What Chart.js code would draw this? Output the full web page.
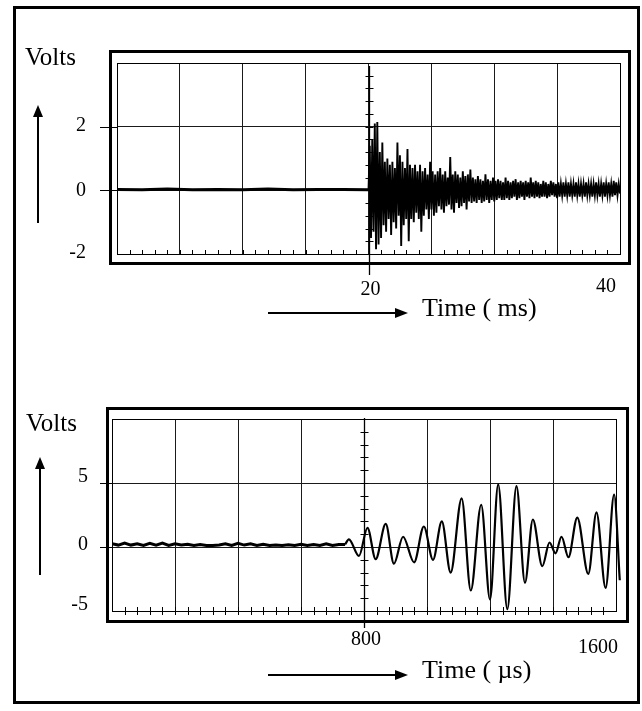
<!DOCTYPE html>
<html>
<head>
<meta charset="utf-8">
<script src="https://cdn.jsdelivr.net/npm/chart.js@4.4.1/dist/chart.umd.min.js"></script>
<style>
html,body{margin:0;padding:0;background:#fff;}
#wrap{position:relative;width:642px;height:711px;overflow:hidden;background:#fff;}
#wrap canvas{position:absolute;left:0;top:0;}
#frame{position:absolute;left:13px;top:6px;width:627px;height:698px;border:3px solid #000;box-sizing:border-box;}
.lbl{position:absolute;font-family:"Liberation Serif","Times New Roman",serif;color:#000;white-space:nowrap;line-height:1;}
</style>
</head>
<body>
<div id="wrap">
  <div id="frame"></div>
  <canvas id="c1" width="642" height="711"></canvas>
  <canvas id="c2" width="642" height="711"></canvas>
  <div class="lbl" style="left:25px;top:44px;font-size:25px">Volts</div>
  <div class="lbl" style="left:422px;top:295px;font-size:26px">Time ( ms)</div>
  <div class="lbl" style="left:26px;top:410px;font-size:25px">Volts</div>
  <div class="lbl" style="left:422px;top:657px;font-size:26px">Time ( µs)</div>
</div>
<script>
// ---------- data: upper trace (ms, volts) ----------
const topTraceStart = 20;   // trigger time, ms
const topTraceStep = 0.1;   // sample spacing, ms
const topBaselineT = [0, 2, 4, 6, 8, 10, 12, 14, 16, 18, 20];
const topBaselineV = [0.03, 0.02, 0.04, 0.02, 0.03, 0.02, 0.04, 0.02, 0.03, 0.03, 0.02];
const topSignalV = [
  0.0, 1.4, -1.5, 1.6, -1.3, 2.1, -1.85, 2.15, -1.7, 1.2,
  -1.5, 1.5, -1.1, 0.9, -1.3, 1.0, -0.9, 0.8, -1.4, 0.9,
  -1.0, 0.7, -1.2, 1.5, -0.8, 1.1, -1.75, 0.9, -1.1, 0.7,
  -0.9, 1.3, -1.6, 0.8, -0.9, 0.7, -1.0, 0.8, -0.7, 0.6,
  -0.9, 0.8, -1.3, 0.6, -0.8, 0.7, -0.6, 0.5, -0.9, 0.9,
  -0.6, 0.6, -0.8, 0.5, -0.7, 0.6, -0.5, 0.7, -0.6, 0.5,
  -0.7, 0.6, -0.5, 0.4, -0.45, 1.05, -0.6, 0.5, -0.7, 0.6,
  -0.4, 0.5, -0.55, 0.4, -0.5, 0.6, -0.4, 0.45, -0.6, 0.5,
  -0.35, 0.65, -0.4, 0.4, -0.35, 0.35, -0.4, 0.45, -0.3, 0.35,
  -0.4, 0.3, -0.35, 0.5, -0.3, 0.35, -0.4, 0.3, -0.3, 0.4,
  -0.35, 0.3, -0.3, 0.35, -0.25, 0.3, -0.3, 0.25, -0.3, 0.4,
  -0.25, 0.3, -0.3, 0.25, -0.25, 0.3, -0.2, 0.35, -0.3, 0.25,
  -0.25, 0.3, -0.2, 0.25, -0.3, 0.3, -0.2, 0.25, -0.25, 0.4,
  -0.2, 0.25, -0.25, 0.3, -0.2, 0.25, -0.25, 0.2, -0.2, 0.3,
  -0.2, 0.25, -0.25, 0.2, -0.2, 0.3, -0.15, 0.25, -0.2, 0.2,
  -0.25, 0.25, -0.2, 0.2, -0.15, 0.25, -0.2, 0.2, -0.15, 0.25,
  -0.2, 0.2, -0.15, 0.2, -0.2, 0.25, -0.15, 0.2, -0.2, 0.2,
  -0.15, 0.2, -0.2, 0.25, -0.15, 0.2, -0.15, 0.2, -0.2, 0.2,
  -0.15, 0.25, -0.15, 0.2, -0.2, 0.2, -0.15, 0.25, -0.2, 0.2,
  -0.15, 0.25, -0.15, 0.2, -0.2, 0.3, -0.15, 0.25, -0.15, 0.2,
  -0.1
];
const topXTickLabels = [20, 40];
const topYTickLabels = [2, 0, -2];

// ---------- data: lower trace (µs, volts) ----------
const botNoiseStep = 20;    // sample spacing, µs
const botNoiseV = [
  0.25, 0.15, 0.3, 0.15, 0.25, 0.12, 0.28, 0.15, 0.3, 0.12,
  0.25, 0.15, 0.22, 0.12, 0.2, 0.12, 0.12, 0.15, 0.25, 0.12,
  0.28, 0.15, 0.25, 0.12, 0.22, 0.12, 0.15, 0.12, 0.18, 0.12,
  0.22, 0.12, 0.2, 0.12, 0.25, 0.12, 0.2, 0.2
];
const botWaveT = [740, 752, 784, 811, 837, 869, 895, 924, 959, 990, 1019, 1047, 1075, 1110, 1139, 1172, 1200,
                  1226, 1255, 1284, 1311, 1336, 1366, 1389, 1408, 1427, 1449, 1477, 1512, 1538, 1567, 1594, 1612];
const botWaveV = [0.2, 0.6, -0.7, 1.5, -0.95, 1.8, -1.3, 0.8, -1.2, 1.6, -1.0, 2.0, -2.0, 3.8, -3.4, 3.3, -4.1,
                  4.9, -4.85, 4.75, -2.8, 2.15, -1.5, 0.35, -0.5, 0.8, -0.8, 2.3, -2.1, 2.7, -3.2, 4.1, -2.6];
const botXTickLabels = [800, 1600];
const botYTickLabels = [5, 0, -5];

// ---------- decoration plugin ----------
const INK = '#000';
function seg(ctx, x1, y1, x2, y2) { ctx.beginPath(); ctx.moveTo(x1, y1); ctx.lineTo(x2, y2); ctx.stroke(); }
const scopeDecor = {
  id: 'scopeDecor',
  afterDraw(chart, args, o) {
    const {ctx, chartArea: a, scales: {x, y}} = chart;
    ctx.save();
    ctx.strokeStyle = INK; ctx.fillStyle = INK;
    // inner plot frame
    ctx.lineWidth = 1;
    ctx.strokeRect(a.left + 0.5, a.top + 0.5, a.right - a.left, a.bottom - a.top);
    // thick outer box
    ctx.lineWidth = 3;
    ctx.strokeRect(o.box[0], o.box[1], o.box[2] - o.box[0], o.box[3] - o.box[1]);
    // horizontal grid extensions to the left
    ctx.lineWidth = 1;
    o.gridY.forEach(v => { const py = Math.round(y.getPixelForValue(v)) + 0.5; seg(ctx, o.extLeft, py, a.left, py); });
    // centre axis with ticks
    const cx = Math.round(x.getPixelForValue(o.centerX)) + 0.5;
    ctx.lineWidth = 1.3;
    seg(ctx, cx, o.centerTop, cx, o.centerBottom);
    ctx.lineWidth = 1;
    for (let k = 1; ; k++) {
      const v = y.min + k * o.centerStep;
      if (v > y.max - 1e-6) break;
      const py = Math.round(y.getPixelForValue(v)) + 0.5;
      seg(ctx, cx - o.centerHalf, py, cx + o.centerHalf, py);
    }
    // minor ticks on bottom edge
    for (let k = 1; ; k++) {
      const v = x.min + k * o.minorStep;
      if (v > x.max - 1e-6) break;
      const px = Math.round(x.getPixelForValue(v)) + 0.5;
      seg(ctx, px, a.bottom - o.minorUp, px, a.bottom + o.minorDown);
    }
    // tick labels
    ctx.font = o.tickFont;
    ctx.textBaseline = 'middle';
    ctx.textAlign = 'right';
    o.yLabels.forEach((v, i) => ctx.fillText(String(v), o.yLabelRight, y.getPixelForValue(v) + o.yLabelDy[i]));
    ctx.textAlign = 'center';
    o.xLabels.forEach((v, i) => ctx.fillText(String(v), x.getPixelForValue(v) + o.xLabelDx[i], o.xLabelY[i]));
    // arrows
    ctx.lineWidth = 2;
    const va = o.vArrow;
    seg(ctx, va[0], va[2], va[0], va[1] + 8);
    ctx.beginPath(); ctx.moveTo(va[0], va[1]); ctx.lineTo(va[0] - 5, va[1] + 12); ctx.lineTo(va[0] + 5, va[1] + 12); ctx.closePath(); ctx.fill();
    const ha = o.hArrow;
    seg(ctx, ha[0], ha[2], ha[1] - 8, ha[2]);
    ctx.beginPath(); ctx.moveTo(ha[1], ha[2]); ctx.lineTo(ha[1] - 13, ha[2] - 5); ctx.lineTo(ha[1] - 13, ha[2] + 5); ctx.closePath(); ctx.fill();
    ctx.restore();
  }
};

function scaleOpts(min, max, step, gridVals) {
  return {
    type: 'linear', min, max,
    ticks: {display: false, stepSize: step},
    border: {display: false},
    grid: {
      drawTicks: false, lineWidth: 1,
      color: gridVals ? (c => gridVals.includes(c.tick.value) ? '#1a1a1a' : 'rgba(0,0,0,0)') : '#1a1a1a'
    }
  };
}

// ---------- upper chart ----------
new Chart(document.getElementById('c1'), {
  type: 'line',
  data: {
    datasets: [
      {data: topBaselineT.map((t, i) => ({x: t, y: topBaselineV[i]})), borderColor: INK, borderWidth: 3, pointRadius: 0, tension: 0},
      {data: topSignalV.map((v, i) => ({x: topTraceStart + i * topTraceStep, y: v})), borderColor: INK, borderWidth: 1.9, pointRadius: 0, tension: 0, borderJoinStyle: 'miter'}
    ]
  },
  options: {
    responsive: false, animation: false, events: [],
    layout: {padding: {left: 117, top: 63, right: 22, bottom: 457}},
    plugins: {
      legend: {display: false}, tooltip: {enabled: false},
      scopeDecor: {
        box: [110.5, 51.5, 629.5, 263.5], gridY: [2, 0], extLeft: 100,
        centerX: 20, centerTop: 66, centerBottom: 275, centerStep: 0.4, centerHalf: 4,
        minorStep: 1, minorUp: 4, minorDown: 0,
        tickFont: '20px "Liberation Serif", serif',
        yLabels: topYTickLabels, yLabelRight: 86, yLabelDy: [-1, 0, -1],
        xLabels: topXTickLabels, xLabelDx: [2, -14], xLabelY: [290, 287],
        vArrow: [38, 105, 223], hArrow: [268, 408, 313]
      }
    },
    scales: {x: scaleOpts(0, 40, 5, null), y: scaleOpts(-2, 4, 2, [0, 2])}
  },
  plugins: [scopeDecor]
});

// ---------- lower chart ----------
new Chart(document.getElementById('c2'), {
  type: 'line',
  data: {
    datasets: [
      {data: botNoiseV.map((v, i) => ({x: i * botNoiseStep, y: v})), borderColor: INK, borderWidth: 3, pointRadius: 0, tension: 0},
      {data: botWaveT.map((t, i) => ({x: t, y: botWaveV[i]})), borderColor: INK, borderWidth: 2.2, pointRadius: 0,
       cubicInterpolationMode: 'monotone', clip: 8}
    ]
  },
  options: {
    responsive: false, animation: false, events: [],
    layout: {padding: {left: 112, top: 419, right: 26, bottom: 100}},
    plugins: {
      legend: {display: false}, tooltip: {enabled: false},
      scopeDecor: {
        box: [107.5, 408.5, 627.5, 621.5], gridY: [5, 0], extLeft: 100,
        centerX: 800, centerTop: 418, centerBottom: 628, centerStep: 1, centerHalf: 4,
        minorStep: 40, minorUp: 4, minorDown: 4,
        tickFont: '20px "Liberation Serif", serif',
        yLabels: botYTickLabels, yLabelRight: 88, yLabelDy: [-6, -2, -6],
        xLabels: botXTickLabels, xLabelDx: [2, -18], xLabelY: [640, 648],
        vArrow: [40, 457, 575], hArrow: [268, 408, 675]
      }
    },
    scales: {x: scaleOpts(0, 1600, 200, null), y: scaleOpts(-5, 10, 5, [0, 5])}
  },
  plugins: [scopeDecor]
});
</script>
</body>
</html>
